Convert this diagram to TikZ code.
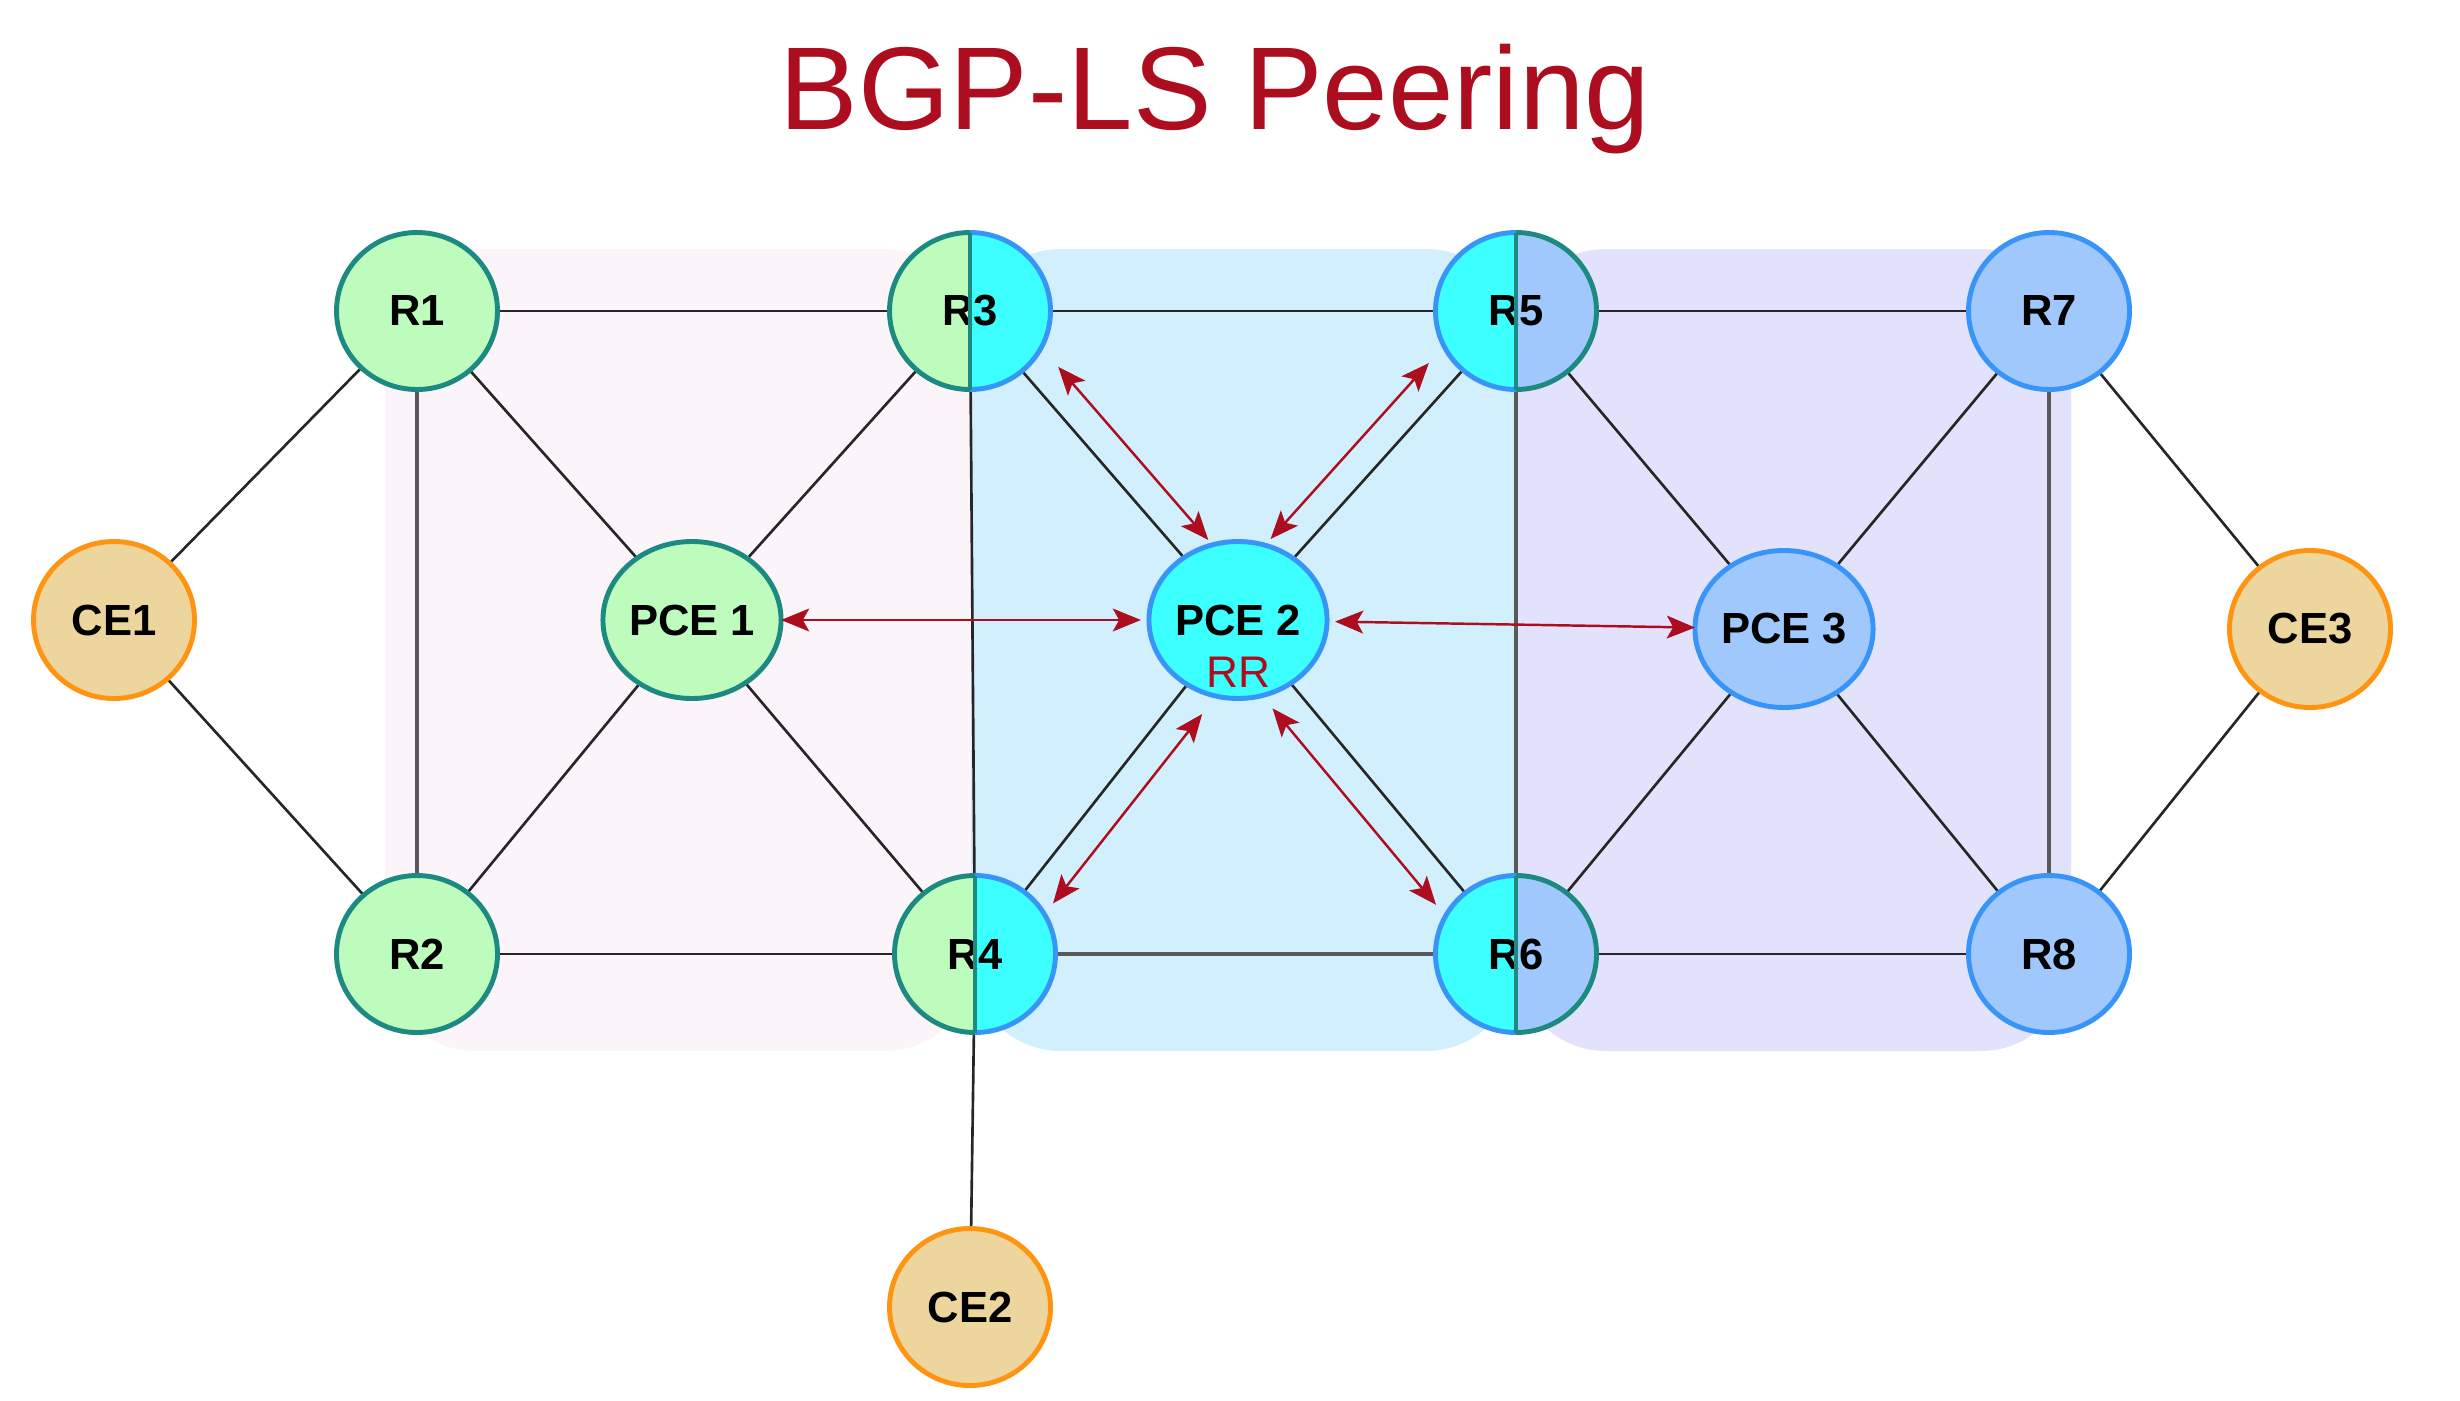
\documentclass[tikz,border=0pt]{standalone}
\usepackage{fontspec}
\setmainfont{Liberation Sans}
\usetikzlibrary{shapes.geometric,arrows.meta,calc,backgrounds}
\definecolor{titlered}{HTML}{AD0E1F}
\definecolor{peerred}{HTML}{AD0E1F}
\definecolor{grfill}{HTML}{BEFCBE}
\definecolor{grline}{HTML}{1D8A82}
\definecolor{cyfill}{HTML}{3CFFFF}
\definecolor{buline}{HTML}{3895F7}
\definecolor{bufill}{HTML}{A0C8FD}
\definecolor{cefill}{HTML}{EDD59E}
\definecolor{celine}{HTML}{FF9412}
\definecolor{pinkbg}{HTML}{FBF5FA}
\definecolor{bluebg}{HTML}{D2EFFD}
\definecolor{lavbg}{HTML}{E3E2FD}
\tikzset{
  router/.style={ellipse, minimum width=1.61cm, minimum height=1.57cm, inner sep=0pt, outer sep=0pt,
    line width=1.4pt, font=\fontsize{12.4}{14}\selectfont\bfseries},
  grnode/.style={router, draw=grline, fill=grfill},
  cynode/.style={router, draw=buline, fill=cyfill},
  bunode/.style={router, draw=buline, fill=bufill},
  cenode/.style={router, draw=celine, fill=cefill},
  halfnode/.style 2 args={router, path picture={
    \fill[#1] (path picture bounding box.south west) rectangle (path picture bounding box.north);
    \fill[#2] (path picture bounding box.south) rectangle (path picture bounding box.north east);}},
  rim/.style={line width=1.4pt},
  link/.style={line width=0.75pt, black!85},
  trunk/.style={line width=1.1pt, black!65},
  peer/.style={line width=0.7pt, peerred,
    {Stealth[length=8pt,width=6.5pt,inset=1.8pt]}-{Stealth[length=8pt,width=6.5pt,inset=1.8pt]}},
}
\begin{document}
\begin{tikzpicture}
\useasboundingbox (0,0) rectangle (24.6,-14);
\node[font=\fontsize{33.5}{40}\selectfont, text=titlered, anchor=base] (title) at (12.15,-1.29) {BGP-LS Peering};

\node[cenode] (CE1) at (1.14,-6.20) {CE1};
\node[grnode] (R1) at (4.17,-3.11) {R1};
\node[grnode] (R2) at (4.17,-9.54) {R2};
\node[grnode] (PCE1) at (6.92,-6.20) {PCE 1};
\node[halfnode={grfill}{cyfill}] (R3) at (9.70,-3.11) {R3};
\node[halfnode={grfill}{cyfill}] (R4) at (9.75,-9.54) {R4};
\node[cynode] (PCE2) at (12.38,-6.20) {PCE 2};
\node[font=\fontsize{12.6}{14}\selectfont, text=peerred, inner sep=0pt] (RR) at ($(PCE2)+(0,-0.52)$) {RR};
\node[halfnode={cyfill}{bufill}] (R5) at (15.16,-3.11) {R5};
\node[halfnode={cyfill}{bufill}] (R6) at (15.16,-9.54) {R6};
\node[bunode] (PCE3) at (17.84,-6.29) {PCE 3};
\node[bunode] (R7) at (20.49,-3.11) {R7};
\node[bunode] (R8) at (20.49,-9.54) {R8};
\node[cenode] (CE3) at (23.10,-6.29) {CE3};
\node[cenode] (CE2) at (9.70,-13.07) {CE2};

\foreach \n/\l/\r in {R3/grline/buline, R4/grline/buline, R5/buline/grline, R6/buline/grline} {
  \draw[rim,\l] (\n.north) arc[start angle=90, end angle=270, x radius=0.805cm, y radius=0.785cm];
  \draw[rim,\r] (\n.south) arc[start angle=-90, end angle=90, x radius=0.805cm, y radius=0.785cm];
  \draw[line width=1pt, grline] (\n.north) -- (\n.south);
}

\begin{scope}[on background layer]
\fill[pinkbg, rounded corners=0.9cm] (3.85,-2.49) rectangle (9.75,-10.51);
\fill[bluebg, rounded corners=0.9cm] (9.71,-2.49) rectangle (15.16,-10.51);
\fill[lavbg, rounded corners=0.9cm] (15.16,-2.49) rectangle (20.71,-10.51);
\draw[link] (CE1) -- (R1);
\draw[link] (CE1) -- (R2);
\draw[link] (R1) -- (R3);
\draw[link] (R1) -- (PCE1);
\draw[link] (R2) -- (R4);
\draw[link] (R2) -- (PCE1);
\draw[link] (R3) -- (PCE1);
\draw[link] (R4) -- (PCE1);
\draw[link] (R3) -- (R4);
\draw[link] (R4) -- (CE2);
\draw[link] (R3) -- (R5);
\draw[link] (R3) -- (PCE2);
\draw[link] (R5) -- (PCE2);
\draw[link] (R4) -- (PCE2);
\draw[link] (R6) -- (PCE2);
\draw[link] (R5) -- (R7);
\draw[link] (R6) -- (R8);
\draw[link] (R5) -- (PCE3);
\draw[link] (R6) -- (PCE3);
\draw[link] (R7) -- (PCE3);
\draw[link] (R8) -- (PCE3);
\draw[link] (R7) -- (CE3);
\draw[link] (R8) -- (CE3);
\draw[trunk] (R1) -- (R2);
\draw[trunk] (R4) -- (R6);
\draw[trunk] (R5) -- (R6);
\draw[trunk] (R7) -- (R8);
\end{scope}

\draw[peer, shorten >=0.08cm] (PCE1) -- (PCE2);
\draw[peer, shorten <=0.08cm] (PCE2) -- (PCE3);
\draw[peer, shorten <=1.0cm, shorten >=0.8cm] ($(R3)!0.3cm!90:(PCE2)$) -- ($(PCE2)!0.3cm!-90:(R3)$);
\draw[peer, shorten <=0.97cm, shorten >=0.82cm] ($(R5)!0.3cm!-90:(PCE2)$) -- ($(PCE2)!0.3cm!90:(R5)$);
\draw[peer, shorten <=0.88cm, shorten >=0.96cm] ($(R4)!0.3cm!-90:(PCE2)$) -- ($(PCE2)!0.3cm!90:(R4)$);
\draw[peer, shorten <=0.89cm, shorten >=0.9cm] ($(R6)!0.3cm!90:(PCE2)$) -- ($(PCE2)!0.3cm!-90:(R6)$);
\end{tikzpicture}
\end{document}
